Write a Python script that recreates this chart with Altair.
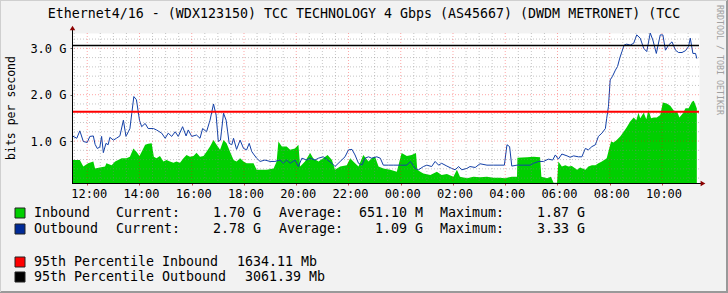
import altair as alt
import pandas as pd

TITLE = "Ethernet4/16 - (WDX123150) TCC TECHNOLOGY 4 Gbps (AS45667) (DWDM METRONET) (TCC"
WATERMARK = "RRDTOOL / TOBI OETIKER"
Y_TITLE = "bits per second"

# Outbound (blue line), Gbit/s
out_times = ["11:26","11:36","11:43","11:51","12:00","12:06","12:14","12:18","12:23","12:29","12:33","12:37",
             "12:43","12:48","12:52","13:00","13:07","13:15","13:23","13:29","13:38","13:47","13:53","14:00",
             "14:05","14:13","14:20","14:32","14:39","14:51","14:59","15:06","15:14","15:22","15:29","15:39",
             "15:47","15:52","16:00","16:11","16:19","16:25","16:34","16:42","16:50","16:56","17:01","17:06",
             "17:13","17:19","17:26","17:32","17:36","17:43","17:51","17:59","18:06","18:12","18:18","18:29",
             "18:37","18:48","19:00","19:11","19:23","19:30","19:38","19:46","19:57","20:05","20:13","20:24",
             "20:32","20:43","20:51","21:02","21:12","21:22","21:29","21:41","21:52","22:00","22:08","22:15",
             "22:23","22:31","22:38","22:46","22:53","23:05","23:13","23:20","23:32","23:43","23:59","00:14",
             "00:22","00:28","00:33","00:41","00:52","01:00","01:11","01:19","01:27","01:34","01:46","01:57",
             "02:05","02:13","02:20","02:32","02:39","02:51","03:02","03:18","03:33","03:48","03:58","04:04",
             "04:10","04:15","04:27","04:42","04:57","05:05","05:17","05:28","05:39","05:49","05:55","06:02",
             "06:10","06:22","06:29","06:37","06:48","06:56","07:04","07:11","07:19","07:27","07:34","07:42",
             "07:50","07:53","07:57","08:01","08:06","08:13","08:18","08:23","08:28","08:33","08:39","08:47",
             "08:55","09:02","09:10","09:18","09:25","09:33","09:39","09:47","09:56","10:02","10:08","10:15",
             "10:23","10:31","10:38","10:46","10:54","11:01","11:05","11:11","11:17","11:20"]
out_values = [1.11,1.06,1.22,0.99,0.97,1.10,1.11,0.93,0.84,0.87,1.10,0.75,
              0.95,0.92,1.08,1.02,1.06,1.11,1.45,1.10,1.27,1.96,1.89,1.45,
              1.31,1.38,1.27,1.27,1.24,1.17,1.06,1.17,1.10,1.20,1.10,1.31,
              1.11,1.24,1.10,1.13,1.06,1.27,1.20,1.45,1.80,1.56,0.99,1.02,
              1.60,1.45,0.95,0.92,1.06,0.82,1.02,0.84,0.81,0.95,0.77,0.63,
              0.56,0.59,0.56,0.56,0.59,0.52,0.59,0.52,0.59,0.45,0.63,0.59,
              0.63,0.59,0.63,0.66,0.59,0.52,0.45,0.56,0.66,0.81,0.82,0.70,
              0.52,0.48,0.63,0.66,0.63,0.66,0.63,0.48,0.48,0.48,0.48,0.48,
              0.56,0.48,0.41,0.38,0.45,0.48,0.45,0.56,0.48,0.52,0.46,0.41,
              0.38,0.45,0.38,0.41,0.45,0.43,0.51,0.48,0.48,0.48,0.48,0.92,
              0.88,0.46,0.48,0.48,0.48,0.52,0.56,0.56,0.61,0.59,0.70,0.61,
              0.72,0.68,0.65,0.68,0.66,0.66,0.84,0.81,0.88,0.92,1.10,1.17,
              1.27,1.49,1.74,2.32,2.39,2.53,2.61,2.79,2.93,3.07,3.09,3.07,
              3.11,3.29,3.22,3.00,2.93,3.33,3.18,2.89,3.29,3.29,2.96,3.07,
              3.14,2.96,2.91,2.91,2.95,3.04,3.22,2.89,2.89,2.78]

# Inbound (green area), Gbit/s
in_times = ["11:26","11:43","11:51","12:02","12:14","12:18","12:29","12:41","12:44","12:56","13:04","13:11",
            "13:19","13:30","13:38","13:46","13:53","14:00","14:05","14:13","14:20","14:28","14:33","14:39",
            "14:47","14:55","15:02","15:10","15:18","15:25","15:33","15:41","15:48","15:56","16:04","16:11",
            "16:19","16:27","16:34","16:42","16:50","16:57","17:05","17:13","17:20","17:28","17:36","17:43",
            "17:51","17:59","18:06","18:22","18:29","18:52","19:08","19:15","19:19","19:27","19:38","19:46",
            "19:57","20:05","20:09","20:20","20:32","20:39","20:51","21:02","21:12","21:22","21:29","21:41",
            "21:56","22:04","22:11","22:23","22:34","22:46","22:53","23:01","23:09","23:20","23:36","23:51",
            "00:02","00:14","00:25","00:35","00:38","00:45","00:52","01:08","01:23","01:34","01:46","02:01",
            "02:09","02:16","02:32","02:47","03:02","03:18","03:33","03:48","04:00","04:15","04:27","04:28",
            "04:50","05:05","05:20","05:23","05:36","05:45","05:51","05:59","06:02","06:10","06:18","06:25",
            "06:33","06:45","06:52","07:04","07:11","07:19","07:27","07:34","07:42","07:53","08:03","08:09",
            "08:16","08:24","08:32","08:39","08:47","08:55","09:01","09:06","09:10","09:18","09:24","09:29",
            "09:35","09:41","09:48","09:56","10:02","10:11","10:19","10:27","10:35","10:40","10:48","10:54",
            "11:01","11:09","11:13","11:17","11:20"]
in_values = [0.59,0.59,0.45,0.52,0.56,0.41,0.43,0.45,0.52,0.48,0.56,0.59,
             0.63,0.63,0.66,0.84,0.77,0.68,0.77,0.92,0.94,0.95,0.66,0.63,
             0.68,0.56,0.59,0.56,0.53,0.56,0.53,0.63,0.70,0.66,0.68,0.75,
             0.66,0.68,0.77,0.88,1.02,0.92,0.81,1.02,0.95,0.77,0.59,0.56,
             0.63,0.56,0.52,0.52,0.38,0.38,0.41,0.56,0.99,0.88,0.88,0.81,
             0.84,0.92,0.45,0.56,0.74,0.63,0.56,0.63,0.70,0.59,0.38,0.45,
             0.48,0.63,0.56,0.45,0.70,0.56,0.63,0.66,0.45,0.41,0.38,0.34,
             0.74,0.68,0.70,0.74,0.38,0.34,0.30,0.27,0.34,0.27,0.29,0.23,
             0.38,0.23,0.20,0.23,0.22,0.23,0.21,0.21,0.20,0.23,0.23,0.64,
             0.65,0.66,0.65,0.23,0.20,0.23,0.10,0.10,0.56,0.45,0.48,0.45,
             0.46,0.38,0.43,0.38,0.45,0.48,0.48,0.52,0.56,0.63,0.99,0.97,
             1.02,1.10,1.20,1.30,1.42,1.51,1.45,1.61,1.49,1.61,1.47,1.67,
             1.49,1.51,1.51,1.56,1.83,1.81,1.76,1.66,1.63,1.51,1.60,1.71,
             1.71,1.85,1.87,1.78,1.70]

p95_in = 1.63411
p95_out = 3.06139

x_major = ["12:00","14:00","16:00","18:00","20:00","22:00","00:00","02:00","04:00","06:00","08:00","10:00"]
y_major = [1.0, 2.0, 3.0]
y_minor = [0.2, 0.4, 0.6, 0.8, 1.2, 1.4, 1.6, 1.8, 2.2, 2.4, 2.6, 2.8, 3.2]

legend_in = ["Inbound", "Current:", "1.70 G", "Average:", "651.10 M", "Maximum:", "1.87 G"]
legend_out = ["Outbound", "Current:", "2.78 G", "Average:", "1.09 G", "Maximum:", "3.33 G"]
legend_p95 = [("95th Percentile Inbound", "1634.11 Mb"), ("95th Percentile Outbound", "3061.39 Mb")]


def stamp(times):
    day, prev, res = 1, -1, []
    for t in times:
        h, m = map(int, t.split(":"))
        mins = h * 60 + m
        if mins < prev:
            day += 1
        prev = mins
        res.append(f"2024-01-0{day}T{t}:00")
    return res


out_df = pd.DataFrame({"t": stamp(out_times), "v": out_values})
in_df = pd.DataFrame({"t": stamp(in_times), "v": in_values})

major_stamps = stamp(x_major)
all_half = pd.date_range("2024-01-01 11:30", "2024-01-02 11:00", freq="30min")
minor_stamps = [d.strftime("%Y-%m-%dT%H:%M:00") for d in all_half]
minor_stamps = [s for s in minor_stamps if s not in major_stamps]
x_major_df = pd.DataFrame({"t": major_stamps})
x_minor_df = pd.DataFrame({"t": minor_stamps})
y_major_df = pd.DataFrame({"v": y_major})
y_minor_df = pd.DataFrame({"v": y_minor})


def dt(s):
    d, hm = s.split("T")
    return alt.DateTime(year=2024, month=1, date=int(d[-2:]), hours=int(hm[:2]), minutes=int(hm[3:5]))


FONT = "DejaVu Sans Mono"
W, H = 627, 150

x_scale = alt.Scale(domain=[alt.DateTime(year=2024, month=1, date=1, hours=11, minutes=25),
                            alt.DateTime(year=2024, month=1, date=2, hours=11, minutes=25)], nice=False)
y_scale = alt.Scale(domain=[0.095, 3.331], nice=False, zero=False)

x_axis = alt.Axis(format="%H:%M", values=[dt(s) for s in major_stamps], grid=False, domain=False,
                  labelFont=FONT, labelFontSize=12, labelColor="#000000", labelPadding=3,
                  tickSize=2, tickColor="#CC4444", title=None, labelOffset=1.5)
y_axis = alt.Axis(values=y_major, labelExpr="format(datum.value, '.1f') + ' G'", grid=False, domain=False,
                  labelFont=FONT, labelFontSize=12, labelColor="#000000", labelPadding=4,
                  tickSize=2, tickColor="#666666", title=None)

X = alt.X("t:T", scale=x_scale, axis=x_axis)
Y = alt.Y("v:Q", scale=y_scale, axis=y_axis)

area = alt.Chart(in_df).mark_area(color="#00CF00", clip=True, interpolate="linear").encode(x=X, y=Y)
line = alt.Chart(out_df).mark_line(color="#1340A8", strokeWidth=1, clip=True).encode(x=X, y=Y)

grid_minor_x = alt.Chart(x_minor_df).mark_rule(color="#808080", opacity=0.45, strokeDash=[1, 2], strokeWidth=1).encode(x=X)
grid_major_x = alt.Chart(x_major_df).mark_rule(color="#FF0000", opacity=0.35, strokeDash=[1, 2], strokeWidth=1).encode(x=X)
grid_minor_y = alt.Chart(y_minor_df).mark_rule(color="#808080", opacity=0.45, strokeDash=[1, 2], strokeWidth=1).encode(y=Y)
grid_major_y = alt.Chart(y_major_df).mark_rule(color="#FF0000", opacity=0.35, strokeDash=[1, 2], strokeWidth=1).encode(y=Y)

p95_in_rule = alt.Chart(pd.DataFrame({"v": [p95_in]})).mark_rule(strokeWidth=2, strokeOpacity=1).encode(
    y=Y, color=alt.value("#FF0000"))
p95_out_rule = alt.Chart(pd.DataFrame({"v": [p95_out]})).mark_rule(strokeWidth=1.3, strokeOpacity=1).encode(
    y=Y, color=alt.value("#000000"))

one = pd.DataFrame({"a": [0]})
axis_x_line = alt.Chart(one).mark_rule(color="#000000", strokeWidth=1).encode(
    x=alt.value(0), x2=alt.value(W + 2), y=alt.value(H + 0.5))
axis_y_line = alt.Chart(one).mark_rule(color="#000000", strokeWidth=1).encode(
    x=alt.value(0.5), y=alt.value(-3), y2=alt.value(H))
arrow_x = alt.Chart(one).mark_point(shape="triangle-right", filled=True, size=30, color="#8B0000", opacity=1).encode(
    x=alt.value(W + 4), y=alt.value(H + 0.5))
arrow_y = alt.Chart(one).mark_point(shape="triangle-up", filled=True, size=30, color="#8B0000", opacity=1).encode(
    x=alt.value(0.5), y=alt.value(-5))


def txt(s, x, y, size=13.3, align="left", color="#000000", angle=0):
    return alt.Chart(pd.DataFrame({"s": [s]})).mark_text(
        font=FONT, fontSize=size, align=align, baseline="middle", color=color, angle=angle).encode(
        text="s:N", x=alt.value(x), y=alt.value(y))


def box(color, y):
    return alt.Chart(one).mark_rect(color=color, stroke="#222222", strokeWidth=1).encode(
        x=alt.value(-57), x2=alt.value(-47), y=alt.value(y - 5), y2=alt.value(y + 5))


texts = [
    txt(TITLE, 292, -19, size=13.3, align="center"),
    txt(Y_TITLE, -60, 75, size=11.5, align="center", angle=270),
    txt(WATERMARK, 646.5, 27, size=8.3, align="center", color="#A0A0A0", angle=90),
]

rows_y = [180, 196]
for row, yy in zip([legend_in, legend_out], rows_y):
    texts += [
        txt(row[0], -38, yy), txt(row[1], 44, yy), txt(row[2], 189, yy, align="right"),
        txt(row[3], 207, yy), txt(row[4], 351, yy, align="right"),
        txt(row[5], 368, yy), txt(row[6], 513, yy, align="right"),
    ]
texts += [txt(legend_p95[0][0], -38, 229), txt(legend_p95[0][1], 165, 229),
          txt(legend_p95[1][0], -38, 244), txt(legend_p95[1][1], 173, 244)]

boxes = [box("#00CF00", 180), box("#002A97", 196), box("#FF0000", 229), box("#000000", 244)]

frame = [
    alt.Chart(one).mark_rule(color="#999999", strokeWidth=2).encode(x=alt.value(655), y=alt.value(-33), y2=alt.value(260)),
    alt.Chart(one).mark_rule(color="#999999", strokeWidth=2).encode(x=alt.value(-72), x2=alt.value(656), y=alt.value(259)),
    alt.Chart(one).mark_rule(color="#CFCFCF", strokeWidth=2).encode(x=alt.value(-72), y=alt.value(-33), y2=alt.value(259)),
    alt.Chart(one).mark_rule(color="#CFCFCF", strokeWidth=2).encode(x=alt.value(-72), x2=alt.value(655), y=alt.value(-33)),
]

chart = alt.layer(
    area, line, grid_minor_x, grid_minor_y, grid_major_x, grid_major_y, p95_in_rule, p95_out_rule,
    axis_x_line, axis_y_line, arrow_x, arrow_y, *boxes, *texts, *frame
).properties(
    width=W, height=H,
    autosize=alt.AutoSizeParams(type="none"),
    padding={"left": 72, "top": 33, "right": 29, "bottom": 110},
).configure(background="#F2F2F2").configure_view(fill="#FFFFFF", stroke="transparent")

chart.save("out.html", embed_options={"renderer": "svg", "actions": False})
